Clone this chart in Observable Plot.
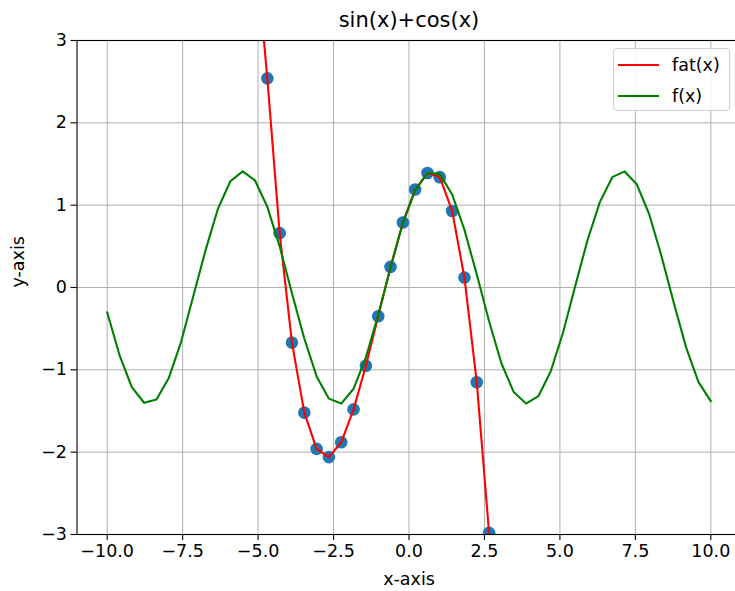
<!DOCTYPE html>
<html>
<head>
<meta charset="utf-8">
<script src="https://cdn.jsdelivr.net/npm/d3@7"></script>
<script src="https://cdn.jsdelivr.net/npm/@observablehq/plot@0.6"></script>
<style>
  html, body { margin: 0; padding: 0; background: white; overflow: hidden; }
  #wrap { position: relative; width: 735px; height: 591px; overflow: hidden; }
  #legend {
    position: absolute; left: 613px; top: 48px; width: 117px; height: 63px;
    box-sizing: border-box; border: 1px solid #d0d0d0; border-radius: 4px;
    background: rgba(255,255,255,0.85); font-family: "DejaVu Sans", sans-serif; font-size: 17.5px; color: #000;
  }
  .entry { position: absolute; left: 0; height: 20px; display: flex; align-items: center; }
  .swatch { width: 41px; height: 2px; margin-left: 4px; margin-right: 13px; }
</style>
</head>
<body>
<div id="wrap">
  <div id="chart"></div>
  <div id="legend">
    <div class="entry" style="top:6px"><div class="swatch" style="background:red"></div><span>fat(x)</span></div>
    <div class="entry" style="top:37px"><div class="swatch" style="background:green"></div><span>f(x)</span></div>
  </div>
</div>
<script>
const title = "sin(x)+cos(x)";
const xLabel = "x-axis";
const yLabel = "y-axis";
const xTicks = [-10, -7.5, -5, -2.5, 0, 2.5, 5, 7.5, 10];
const yTicks = [-3, -2, -1, 0, 1, 2, 3];

// f(x) sampled points (green)
const fX = [-10.000, -9.592, -9.184, -8.776, -8.367, -7.959, -7.551, -7.143, -6.735, -6.327,
            -5.918, -5.510, -5.102, -4.694, -4.286, -3.878, -3.469, -3.061, -2.653, -2.245,
            -1.837, -1.429, -1.020, -0.612, -0.204, 0.204, 0.612, 1.020, 1.429, 1.837,
            2.245, 2.653, 3.061, 3.469, 3.878, 4.286, 4.694, 5.102, 5.510, 5.918,
            6.327, 6.735, 7.143, 7.551, 7.959, 8.367, 8.776, 9.184, 9.592, 10.000];
const fY = [-0.30, -0.82, -1.21, -1.40, -1.36, -1.10, -0.66, -0.10, 0.46, 0.96,
            1.29, 1.41, 1.30, 0.98, 0.50, -0.07, -0.62, -1.08, -1.35, -1.41,
            -1.23, -0.85, -0.33, 0.24, 0.78, 1.18, 1.39, 1.38, 1.13, 0.70,
            0.16, -0.41, -0.92, -1.27, -1.41, -1.32, -1.02, -0.55, 0.02, 0.58,
            1.04, 1.34, 1.41, 1.25, 0.89, 0.38, -0.19, -0.73, -1.15, -1.38];

// fat(x) fitted curve (red), also the scatter points
const fatX = [-5.102, -4.694, -4.286, -3.878, -3.469, -3.061, -2.653, -2.245, -1.837, -1.429,
              -1.020, -0.612, -0.204, 0.204, 0.612, 1.020, 1.429, 1.837, 2.245, 2.653];
const fatY = [4.20, 2.54, 0.66, -0.67, -1.52, -1.96, -2.06, -1.88, -1.48, -0.95,
              -0.35, 0.25, 0.79, 1.19, 1.39, 1.34, 0.93, 0.12, -1.15, -2.98];
const dotX = fatX.slice(1);
const dotY = fatY.slice(1);

const fData = fX.map((x, i) => ({x, y: fY[i]}));
const fatData = fatX.map((x, i) => ({x, y: fatY[i]}));
const dotData = dotX.map((x, i) => ({x, y: dotY[i]}));

const font = "DejaVu Sans";
const chart = Plot.plot({
  width: 742,
  height: 591,
  marginLeft: 76.5,
  marginRight: 1.5,
  marginTop: 40,
  marginBottom: 57,
  style: {maxWidth: "none", fontFamily: font, fontSize: "17.5px", color: "black", background: "white", overflow: "visible"},
  x: {domain: [-11, 11]},
  y: {domain: [-3, 3]},
  marks: [
    Plot.gridX(xTicks, {stroke: "#b0b0b0", strokeOpacity: 1, strokeWidth: 1}),
    Plot.gridY(yTicks, {stroke: "#b0b0b0", strokeOpacity: 1, strokeWidth: 1}),
    Plot.dot(dotData, {x: "x", y: "y", r: 6.3, fill: "#1f77b4", stroke: null, clip: true}),
    Plot.line(fatData, {x: "x", y: "y", stroke: "red", strokeWidth: 2.1, clip: true}),
    Plot.line(fData, {x: "x", y: "y", stroke: "green", strokeWidth: 2.1, clip: true}),
    Plot.frame({stroke: "black", strokeWidth: 1.1}),
    Plot.axisX(xTicks, {tickFormat: d3.format(".1f"), tickSize: 6, tickPadding: 4, fontSize: 17.5, label: null, stroke: "black", strokeWidth: 1.1}),
    Plot.axisY(yTicks, {tickFormat: d3.format("d"), tickSize: 6, tickPadding: 4, fontSize: 17.5, label: null, stroke: "black", strokeWidth: 1.1}),
    Plot.text([title], {frameAnchor: "top", dy: -20, fontSize: 21, fill: "black", lineAnchor: "middle"}),
    Plot.text([xLabel], {frameAnchor: "bottom", dy: 45, fontSize: 17.5, fill: "black", lineAnchor: "middle"}),
    Plot.text([yLabel], {frameAnchor: "left", dx: -59, rotate: -90, fontSize: 17.5, fill: "black", lineAnchor: "middle"})
  ]
});
document.getElementById("chart").appendChild(chart);
</script>
</body>
</html>
